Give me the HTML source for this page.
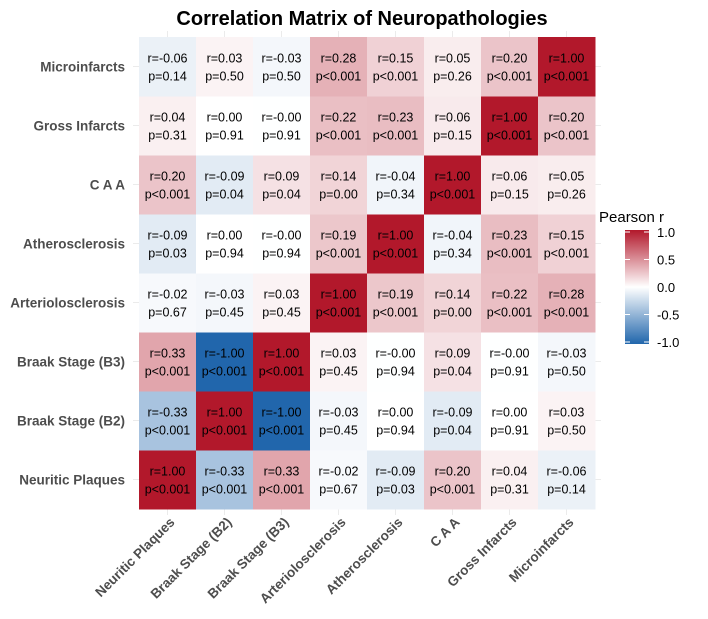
<!DOCTYPE html>
<html><head><meta charset="utf-8"><style>
body{margin:0;background:#fff;}
svg{display:block;font-family:"Liberation Sans",Arial,sans-serif;}
</style></head><body>
<svg id="chart" width="708" height="619" viewBox="0 0 708 619">
<text x="362" y="25" text-anchor="middle" font-size="20" font-weight="bold" fill="#000">Correlation Matrix of Neuropathologies</text>
<g id="grid"></g><g id="cells"></g><g id="ylabels"></g><g id="xlabels"></g>
<g id="legend">
<text x="599" y="222" font-size="15" fill="#000">Pearson r</text>
<defs><linearGradient id="lg" x1="0" y1="0" x2="0" y2="1">
<stop offset="0" stop-color="#b2182b"/><stop offset="0.5" stop-color="#ffffff"/><stop offset="1" stop-color="#2166ac"/></linearGradient></defs>
<rect x="625" y="230" width="24" height="114" fill="url(#lg)"/>
<g id="legticks"></g>
</g>
</svg>
<script>
const vars=["Neuritic Plaques","Braak Stage (B2)","Braak Stage (B3)","Arteriolosclerosis","Atherosclerosis","C A A","Gross Infarcts","Microinfarcts"];
const rVals=[
[1,-0.33,0.33,-0.02,-0.09,0.20,0.04,-0.06],
[-0.33,1,-1,-0.03,0.00,-0.09,0.00,0.03],
[0.33,-1,1,0.03,-0.001,0.09,-0.001,-0.03],
[-0.02,-0.03,0.03,1,0.19,0.14,0.22,0.28],
[-0.09,0.00,-0.001,0.19,1,-0.04,0.23,0.15],
[0.20,-0.09,0.09,0.14,-0.04,1,0.06,0.05],
[0.04,0.00,-0.001,0.22,0.23,0.06,1,0.20],
[-0.06,0.03,-0.03,0.28,0.15,0.05,0.20,1]];
const pLabels=[
["<0.001","<0.001","<0.001","0.67","0.03","<0.001","0.31","0.14"],
["<0.001","<0.001","<0.001","0.45","0.94","0.04","0.91","0.50"],
["<0.001","<0.001","<0.001","0.45","0.94","0.04","0.91","0.50"],
["0.67","0.45","0.45","<0.001","<0.001","0.00","<0.001","<0.001"],
["0.03","0.94","0.94","<0.001","<0.001","0.34","<0.001","<0.001"],
["<0.001","0.04","0.04","0.00","0.34","<0.001","0.15","0.26"],
["0.31","0.91","0.91","<0.001","<0.001","0.15","<0.001","<0.001"],
["0.14","0.50","0.50","<0.001","<0.001","0.26","<0.001","<0.001"]];
const legendTicks=[1.0,0.5,0.0,-0.5,-1.0];
const NS="http://www.w3.org/2000/svg";
const L=139,T=37,W=456,H=472,n=vars.length,cw=W/n,ch=H/n;
const xs=i=>L+i*cw, ys=j=>T+(n-1-j)*ch; // j=0 bottom
const legY=v=>287-v*55;
function mk(tag,attrs,parent,txt){const e=document.createElementNS(NS,tag);for(const k in attrs)e.setAttribute(k,attrs[k]);if(txt!=null)e.textContent=txt;parent.appendChild(e);return e;}
function col(r){const hi=[178,24,43],lo=[33,102,172],w=[255,255,255];const t=Math.min(1,Math.abs(r));const c=r>=0?hi:lo;
const tt=Math.pow(t,0.85);
return "rgb("+w.map((v,i)=>Math.round(v+(c[i]-v)*tt)).join(",")+")";}
function fmt(r){return (r<0?"-":"")+Math.abs(r).toFixed(2);}
const G=document.getElementById("grid"),C=document.getElementById("cells"),YL=document.getElementById("ylabels"),XL=document.getElementById("xlabels");
for(let i=0;i<n;i++){
 const cx=xs(i)+cw/2;
 let g=mk("line",{x1:cx,x2:cx,y1:T-6,y2:T+H+6,stroke:"#ebebeb"},G);
 
 const cy=ys(i)+ch/2;
 g=mk("line",{x1:L-6,x2:L+W+6,y1:cy,y2:cy,stroke:"#ebebeb"},G);
 
}
for(let j=0;j<n;j++)for(let i=0;i<n;i++){
 const r=rVals[j][i];
 const rect=mk("rect",{x:xs(i),y:ys(j),width:cw+0.5,height:ch+0.5,fill:col(r)},C);
 
 
 const cx=xs(i)+cw/2,cy=ys(j)+ch/2;
 const t1=mk("text",{x:cx,y:cy-4,"text-anchor":"middle","font-size":"12.5",fill:"#000"},C,"r="+fmt(r));
 
 const t2=mk("text",{x:cx,y:cy+14,"text-anchor":"middle","font-size":"12.5",fill:"#000"},C,"p"+(pLabels[j][i][0]=="<"?"":"=")+pLabels[j][i]);
 
}
for(let j=0;j<n;j++){
 const y=ys(j)+ch/2;
 const t=mk("text",{x:125,y:y+5,"text-anchor":"end","font-size":"13.5","font-weight":"bold",fill:"#4d4d4d"},YL,vars[j]);
 
}
for(let i=0;i<n;i++){
 const x=xs(i)+cw/2+8,y=T+H+14;
 const t=mk("text",{x:x,y:y,"text-anchor":"end","font-size":"13.5","font-weight":"bold",fill:"#4d4d4d",transform:"rotate(-45 "+x+" "+y+")"},XL,vars[i]);
 
}
const LT=document.getElementById("legticks");
legendTicks.forEach(v=>{
 const y=legY(v);
 let l=mk("line",{x1:625,x2:630,y1:y,y2:y,stroke:"#fff"},LT);
 
 l=mk("line",{x1:644,x2:649,y1:y,y2:y,stroke:"#fff"},LT);
 
 const t=mk("text",{x:657,y:y+5,"font-size":"13",fill:"#000"},LT,v.toFixed(1));
 
});
</script>
</body></html>
